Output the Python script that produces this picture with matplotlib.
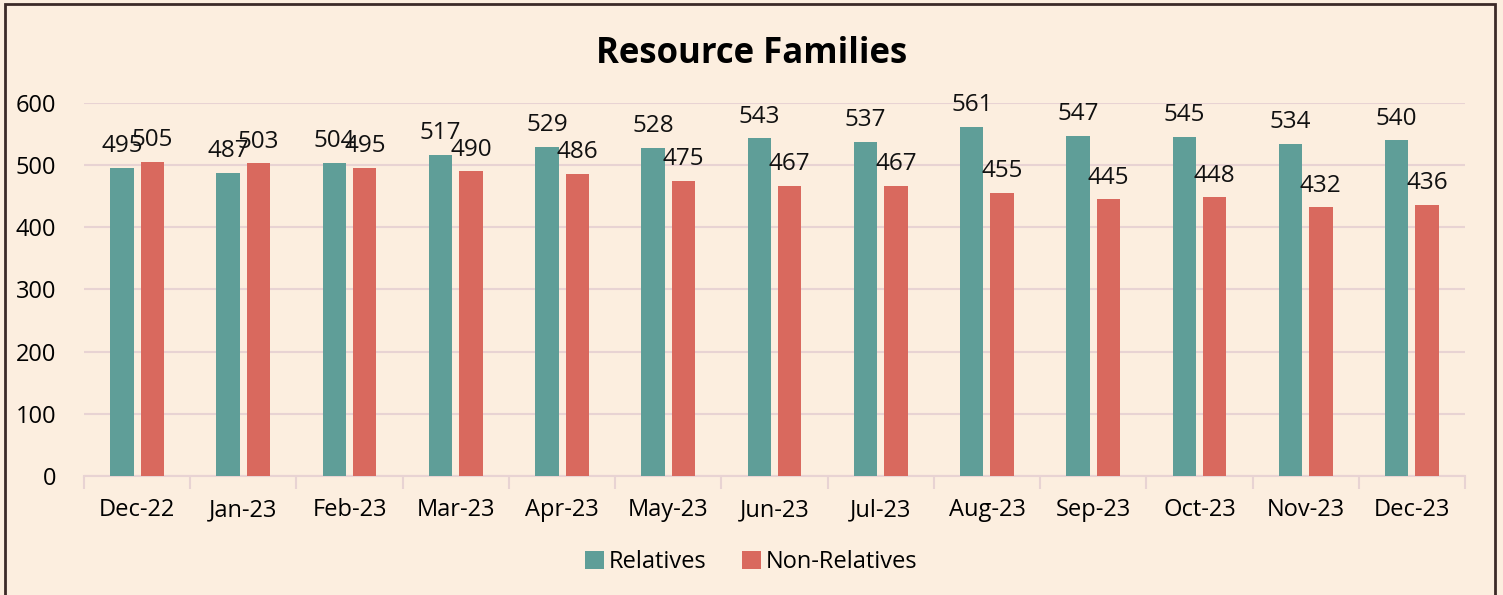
import numpy as np
import matplotlib
matplotlib.use('Agg')
import matplotlib.pyplot as plt
from matplotlib.patches import Rectangle

months = ['Dec-22', 'Jan-23', 'Feb-23', 'Mar-23', 'Apr-23', 'May-23', 'Jun-23',
          'Jul-23', 'Aug-23', 'Sep-23', 'Oct-23', 'Nov-23', 'Dec-23']
relatives = [495, 487, 504, 517, 529, 528, 543, 537, 561, 547, 545, 534, 540]
non_relatives = [505, 503, 495, 490, 486, 475, 467, 467, 455, 445, 448, 432, 436]
y_ticks = [0, 100, 200, 300, 400, 500, 600]

bg = '#FCEEDF'
teal = '#5F9E98'
red = '#D9695E'
grid_col = '#E8D3D3'

plt.rcParams['font.family'] = ['Open Sans', 'DejaVu Sans']

fig = plt.figure(figsize=(15.03, 5.95), dpi=100, facecolor=bg)
ax = fig.add_axes([0.0559, 0.2, 0.9188, 0.627])
ax.set_facecolor(bg)

x = np.arange(len(months))
w = 0.22
off = 0.143
b1 = ax.bar(x - off, relatives, w, color=teal, label='Relatives', zorder=3)
b2 = ax.bar(x + off, non_relatives, w, color=red, label='Non-Relatives', zorder=3)

# value labels above each bar (they overlap in the original too)
for bars, vals in ((b1, relatives), (b2, non_relatives)):
    for b, v in zip(bars, vals):
        ax.annotate(str(v), (b.get_x() + b.get_width() / 2, v),
                    xytext=(0, 7), textcoords='offset points',
                    ha='center', va='bottom', fontsize=17.5, color='#111111', zorder=4)

ax.set_xlim(-0.5, len(months) - 0.5)
ax.set_ylim(0, 600)
ax.set_yticks(y_ticks)
ax.set_xticks(x)
ax.set_xticklabels(months)
ax.set_xticks(np.arange(-0.5, len(months)), minor=True)
ax.tick_params(axis='x', which='major', length=0, pad=16, labelsize=17)
ax.tick_params(axis='x', which='minor', length=9, color=grid_col, width=1.5)
ax.tick_params(axis='y', length=0, pad=20, labelsize=17)
ax.yaxis.grid(True, color=grid_col, lw=1.5, zorder=0)
for s in ['top', 'right', 'left']:
    ax.spines[s].set_visible(False)
ax.spines['bottom'].set_color(grid_col)
ax.spines['bottom'].set_linewidth(1.5)

fig.suptitle('Resource Families', y=0.94, fontsize=25, fontweight='bold')
fig.legend(loc='lower center', bbox_to_anchor=(0.5, 0.0), ncol=2, frameon=False,
           fontsize=17, handlelength=0.8, handleheight=0.8, handletextpad=0.2,
           columnspacing=1.5)

fig.add_artist(Rectangle((0.003, -0.01), 0.992, 1.003, transform=fig.transFigure,
                         fill=False, edgecolor='#3C2A28', lw=2))

fig.savefig('out.png', dpi=100, facecolor=bg)
